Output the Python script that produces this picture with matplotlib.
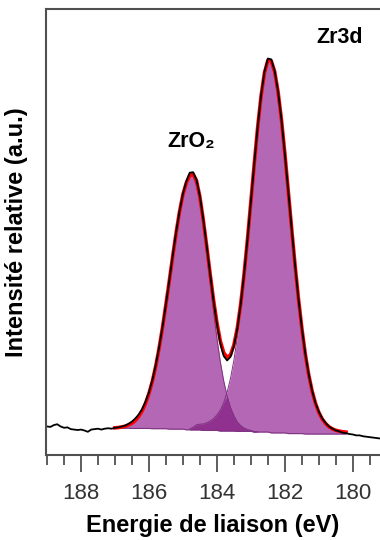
import numpy as np
import matplotlib
matplotlib.use("Agg")
import matplotlib.pyplot as plt
from matplotlib.ticker import MultipleLocator

plt.rcParams['font.family'] = ['Liberation Sans', 'DejaVu Sans']

# Donnees (energie en eV, intensite en u.a.)

# spectre mesure, pas de 0.1 eV de 189.0 a 179.2
energie_mesure = np.round(np.arange(189.0, 179.15, -0.1), 1)
intensite_mesure = [
    6.4, 6.3, 6.7, 6.9, 6.4, 6.1, 6.2, 5.8, 5.7, 5.6, 5.7, 5.5, 5.2, 5.7, 5.8,
    5.9, 5.7, 5.9, 6.0, 5.9, 6.1, 6.2, 6.4,
    6.6, 7.0, 7.5, 8.2, 9.1, 10.3, 12.0, 14.1, 16.8, 20.2,
    24.2, 28.8, 33.9, 39.2, 44.8, 50.0, 54.7, 58.6, 61.4, 63.3,
    63.4, 61.7, 58.0, 52.8, 46.9, 40.6, 34.6, 29.4, 25.0, 22.2,
    21.2, 22.0, 24.4, 28.3, 33.8, 40.6, 48.4, 56.9, 65.4, 73.6,
    80.7, 86.0, 88.9, 88.7, 86.1, 81.5, 75.2, 67.5, 59.2, 50.8,
    42.6, 35.0, 28.5, 22.8, 18.2, 14.5, 11.7, 9.7, 8.2, 7.2,
    6.4, 5.9, 5.5, 5.3, 5.0, 4.9,
    4.7, 4.6, 4.4, 4.4, 4.2, 4.1, 4.0, 3.9, 3.8, 3.7,
]

# grille de l'ajustement, de 187.0 a 180.2 eV
energie_fit = np.round(np.arange(187.0, 180.15, -0.1), 1)
fond = [
    6.0, 6.0, 6.0, 6.0, 6.0,
    5.95, 5.95, 5.95, 5.95, 5.95, 5.95,
    5.9, 5.9, 5.9, 5.9, 5.9,
    5.8, 5.8, 5.8, 5.8, 5.8,
    5.65, 5.65, 5.65, 5.65, 5.65,
    5.5, 5.5, 5.5, 5.5, 5.5,
    5.4, 5.4, 5.4, 5.4, 5.4,
    5.3, 5.3, 5.3, 5.3, 5.3,
    5.15, 5.15, 5.15, 5.15, 5.15,
    4.95, 4.95, 4.95, 4.95, 4.95,
    4.8, 4.8, 4.8, 4.8, 4.8,
    4.7, 4.7, 4.7, 4.7, 4.7, 4.7, 4.7, 4.7, 4.7, 4.7, 4.7, 4.7, 4.7,
]

# composante Zr3d3/2 (187.0 -> 182.8 eV)
pic_1 = [
    0.09, 0.16, 0.27, 0.46, 0.74, 1.17, 1.80, 2.70, 3.95, 5.63,
    7.84, 10.63, 14.05, 18.12, 22.77, 27.90, 33.33, 38.82, 44.08, 48.79,
    52.65, 55.39, 56.82, 56.74, 54.74, 50.94, 45.72, 39.59, 33.07, 26.64,
    20.71, 15.53, 11.23, 7.84, 5.27, 3.42, 2.14, 1.30, 0.75, 0.42,
    0.23, 0.12, 0.06,
]

# composante Zr3d5/2 (184.8 -> 180.2 eV)
pic_2 = [
    0.20, 0.60, 1.13, 1.27, 1.46, 1.72, 2.11, 2.67, 3.48, 4.66,
    6.34, 8.66, 11.78, 15.86, 21.01, 27.25, 34.54, 42.69, 51.37, 60.12,
    68.34, 75.39, 80.58, 83.35, 83.40, 81.03, 76.50, 70.21, 62.67, 54.42,
    45.99, 37.83, 30.30, 23.65, 18.00, 13.37, 9.72, 6.92, 4.85, 3.37,
    2.33, 1.62, 1.15, 0.84, 0.65, 0.52, 0.43,
]

fond = np.array(fond)
pic_1 = np.array(pic_1)
pic_2 = np.array(pic_2)

n1 = len(pic_1)
d2 = len(energie_fit) - len(pic_2)

enveloppe = fond.copy()
enveloppe[:n1] += pic_1
enveloppe[d2:] += pic_2

# Graphique

fig = plt.figure(figsize=(3.8, 5.4), dpi=100)
ax = fig.add_axes([46 / 380, 85 / 540, 1 - 46 / 380, 446 / 540])

violet = "#b467b5"
violet_fonce = "#90308f"
trait = "#7d3580"

ax.fill_between(energie_fit[:n1], fond[:n1], fond[:n1] + pic_1, color=violet, lw=0)
ax.fill_between(energie_fit[d2:], fond[d2:], fond[d2:] + pic_2, color=violet, lw=0)
commun = np.minimum(pic_1[d2:], pic_2[:n1 - d2])
ax.fill_between(energie_fit[d2:n1], fond[d2:n1], fond[d2:n1] + commun, color=violet_fonce, lw=0)
ax.plot(energie_fit[:n1], fond[:n1] + pic_1, color=trait, lw=0.7)
ax.plot(energie_fit[d2:], fond[d2:] + pic_2, color=trait, lw=0.7)
ax.plot(energie_fit, fond, color=trait, lw=0.8)

ax.plot(energie_fit, enveloppe, color="red", lw=2.6)
ax.plot(energie_mesure, intensite_mesure, color="black", lw=1.3)

ax.text(180.39, 92.4, "Zr3d", ha="center", va="baseline", fontsize=15.5, fontweight="bold")
ax.text(184.75, 69.1, "ZrO₂", ha="center", va="baseline", fontsize=15.5, fontweight="bold")

ax.set_xlim(189.03, 179.2)
ax.set_ylim(0, 100)
ax.set_yticks([])
ax.xaxis.set_major_locator(MultipleLocator(2))
ax.xaxis.set_minor_locator(MultipleLocator(0.5))
ax.tick_params(axis="x", which="major", direction="out", length=12.5, width=1.3,
               color="#505050", labelsize=16, labelcolor="#333333", pad=8)
ax.tick_params(axis="x", which="minor", direction="out", length=7, width=1.3, color="#505050")

for cote in ["left", "top", "bottom"]:
    ax.spines[cote].set_color("#505050")
    ax.spines[cote].set_linewidth(1.5)
ax.spines["right"].set_visible(False)

ax.set_xlabel("Energie de liaison (eV)", fontsize=17, fontweight="bold", labelpad=7)
ax.set_ylabel("Intensité relative (a.u.)", fontsize=17, fontweight="bold", labelpad=13)

fig.savefig("out.png", dpi=100)
